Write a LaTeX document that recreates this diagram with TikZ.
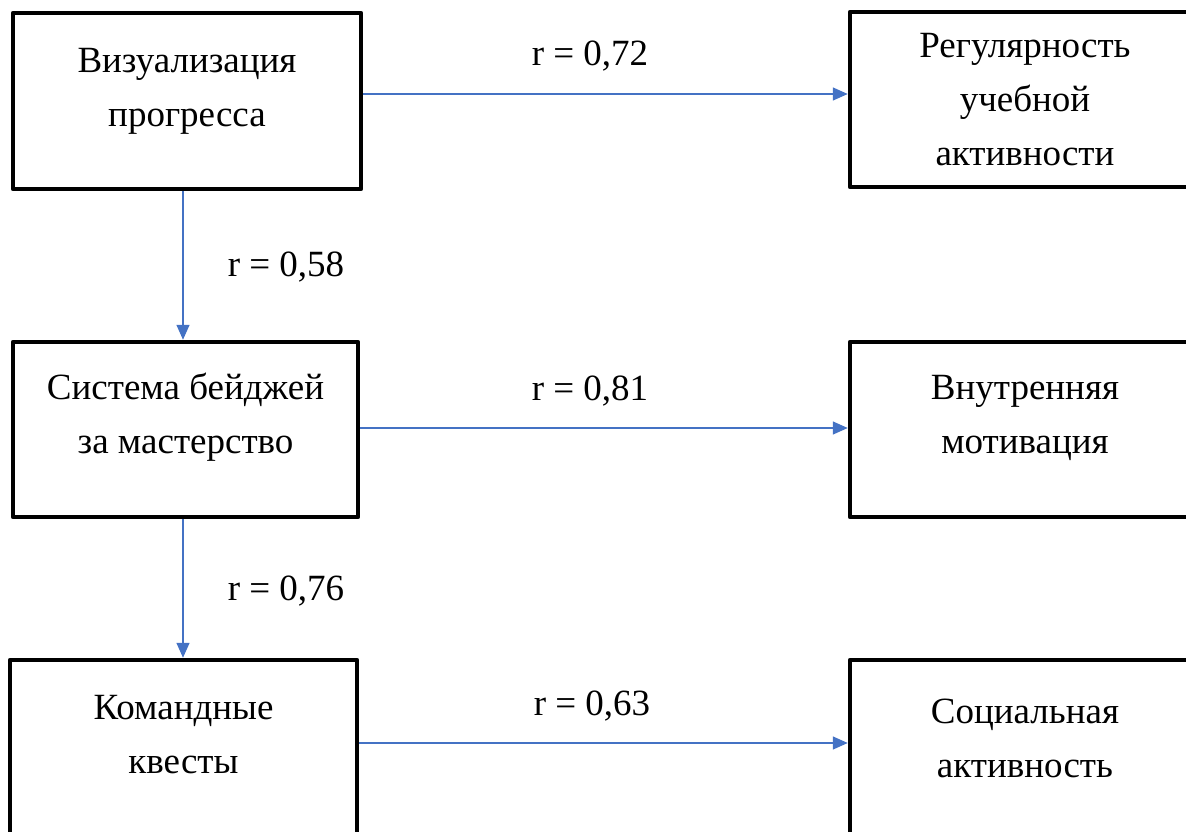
\documentclass[tikz,border=0pt]{standalone}
\usepackage{fontspec}
\setmainfont{Liberation Serif}
\usetikzlibrary{arrows.meta,positioning,calc}
\definecolor{linkblue}{HTML}{4472C4}

\tikzset{
  box/.style={draw, line width=4.5pt, line join=round, inner sep=0pt, minimum width=348pt, minimum height=176pt},
  txt/.style={align=center, inner sep=0pt, font=\fontsize{37}{54}\selectfont},
  rlabel/.style={anchor=base, inner sep=0pt, font=\fontsize{37}{54}\selectfont},
  link/.style={draw=linkblue, line width=1.5pt, -{Triangle[length=15pt,width=13pt]}}
}

\begin{document}
\begin{tikzpicture}[x=1pt,y=1pt,yscale=-1]
\useasboundingbox (0,0) rectangle (1186,832);

% Boxes
\node [box] (viz) at (187,101) {};
\node [box, minimum width=350pt, minimum height=175pt] (reg) at (1025,99.5) {};
\node [box, minimum width=345pt, minimum height=175pt] (badge) at (185.5,429.5) {};
\node [box, minimum width=350pt, minimum height=175pt] (motiv) at (1025,429.5) {};
\node [box, minimum width=347pt] (quest) at (183.5,748) {};
\node [box, minimum width=350pt] (social) at (1025,748) {};

% Text Node
\node [txt, below=24pt of viz.north] (vizt) {\strut Визуализация\\прогресса};
\node [txt, below=10pt of reg.north] (regt) {\strut Регулярность\\учебной\\активности};
\node [txt, below=22pt of badge.north] (badget) {\strut Система бейджей\\за мастерство};
\node [txt, below=22pt of motiv.north] (motivt) {\strut Внутренняя\\мотивация};
\node [txt, below=24pt of quest.north] (questt) {\strut Командные\\квесты};
\node [txt, below=28pt of social.north] (socialt) {\strut Социальная\\активность};

% Connection
\draw [link] ($(viz.east)+(0,-7)$) coordinate (a1) -- (a1 -| reg.west);
\draw [link] ($(badge.east)+(0,-1.5)$) coordinate (a2) -- (a2 -| motiv.west);
\draw [link] ($(quest.east)+(0,-5)$) coordinate (a3) -- (a3 -| social.west);
\draw [link] ($(viz.south)+(-4,0)$) coordinate (v1) -- (v1 |- badge.north);
\draw [link] ($(badge.south)+(-2.5,0)$) coordinate (v2) -- (v2 |- quest.north);

% Labels
\node [rlabel] (r1) at (590,66) {r = 0,72};
\node [rlabel] (r2) at (286,276) {r = 0,58};
\node [rlabel] (r3) at (590,400) {r = 0,81};
\node [rlabel] (r4) at (286,600) {r = 0,76};
\node [rlabel] (r5) at (592,715) {r = 0,63};

\end{tikzpicture}
\end{document}
